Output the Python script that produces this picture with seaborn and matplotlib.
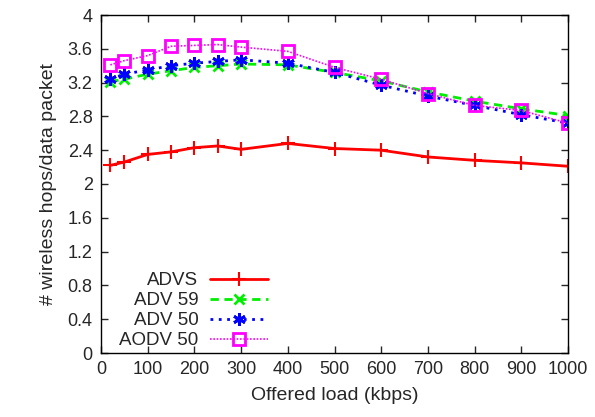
import numpy as np
import pandas as pd
import matplotlib
matplotlib.use('Agg')
import matplotlib.pyplot as plt
import seaborn as sns

loads = [20, 50, 100, 150, 200, 250, 300, 400, 500, 600, 700, 800, 900, 1000]
advs = [2.22, 2.26, 2.35, 2.38, 2.43, 2.45, 2.41, 2.48, 2.42, 2.40, 2.32, 2.28, 2.25, 2.21]
adv59 = [3.21, 3.24, 3.30, 3.34, 3.38, 3.40, 3.42, 3.41, 3.32, 3.22, 3.09, 2.98, 2.89, 2.81]
adv50 = [3.24, 3.30, 3.35, 3.40, 3.43, 3.45, 3.47, 3.43, 3.32, 3.17, 3.04, 2.93, 2.82, 2.72]
aodv50 = [3.41, 3.46, 3.52, 3.63, 3.64, 3.65, 3.62, 3.57, 3.38, 3.24, 3.07, 2.93, 2.87, 2.72]

names = ['ADVS', 'ADV 59', 'ADV 50', 'AODV 50']

df = pd.DataFrame({'load': loads * 4,
                   'hops': advs + adv59 + adv50 + aodv50,
                   'proto': sum([[n] * len(loads) for n in names], [])})

sns.set_style('ticks')
plt.rcParams['font.family'] = ['Liberation Sans', 'DejaVu Sans']

fig = plt.figure(figsize=(5.95, 4.17), dpi=100)
ax = fig.add_axes([101 / 595, 1 - 353 / 417, 467 / 595, 338 / 417])

# gnuplot-ish styles
styles = {
    'ADVS': dict(color='#ff0000', ls='-', marker='+', ms=10, mew=1.5, lw=2),
    'ADV 59': dict(color='#00ee00', ls=(0, (3, 2)), marker='x', ms=7, mew=2, lw=2),
    'ADV 50': dict(color='#0000ff', ls=(0, (1, 2)), marker=(6, 2, 0), ms=9, mew=2, lw=2),
    'AODV 50': dict(color='#ff00ff', ls=(0, (1, 1)), marker='s', ms=8, mew=2, lw=1.2,
                    mfc='none'),
}

for n in names:
    st = dict(styles[n])
    sub = df[df['proto'] == n]
    ls = st.pop('ls')
    sns.lineplot(data=sub, x='load', y='hops', ax=ax, label=n, linestyle=ls,
                 mec=st['color'], **st)

ax.set_xlim(0, 1000)
ax.set_ylim(0, 4)
ax.set_xticks(np.arange(0, 1001, 100))
ax.set_yticks(np.arange(0, 4.01, 0.4))
ax.set_yticklabels(['0', '0.4', '0.8', '1.2', '1.6', '2', '2.4', '2.8', '3.2', '3.6', '4'])
ax.tick_params(direction='in', top=True, right=True, length=5, labelsize=13, width=1, pad=6)
for s in ax.spines.values():
    s.set_linewidth(1)
    s.set_color('black')
ax.set_xlabel('Offered load (kbps)', fontsize=14, labelpad=6)
ax.set_ylabel('# wireless hops/data packet', fontsize=14, labelpad=8)

ax.legend(loc='lower left', bbox_to_anchor=(0.031, 0.0), frameon=False, markerfirst=False,
          fontsize=13.5, handlelength=3.1, labelspacing=0.15, borderaxespad=0.0,
          borderpad=0.2, handletextpad=0.6)

fig.savefig('out.png', dpi=100)
